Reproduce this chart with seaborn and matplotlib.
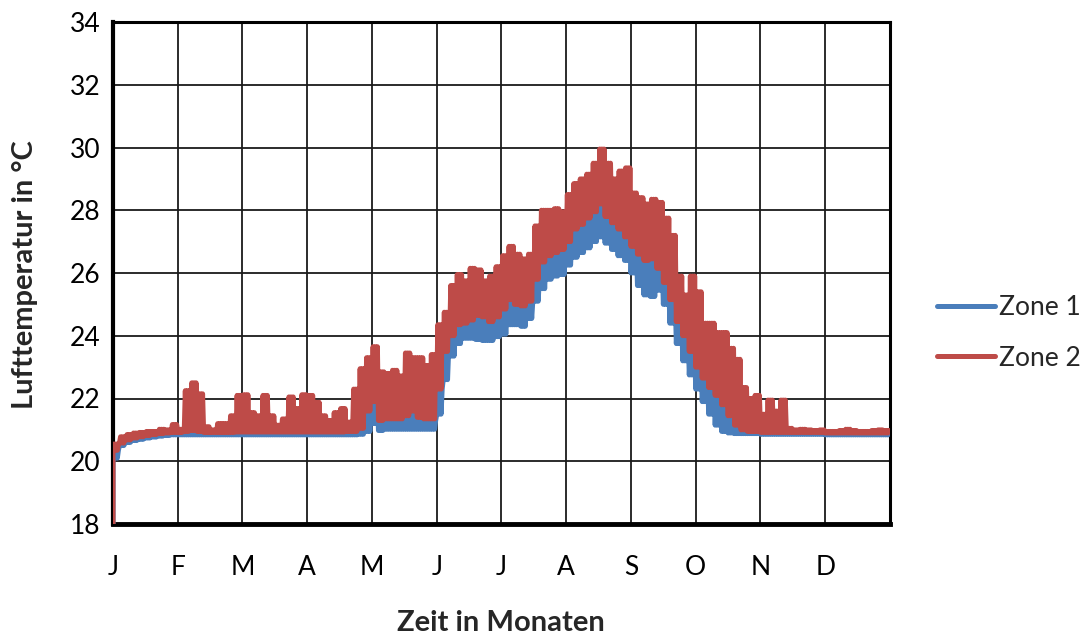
import numpy as np
import pandas as pd
import matplotlib
matplotlib.use("Agg")
import matplotlib.pyplot as plt
import seaborn as sns

# Hourly simulation summarised as min / max per 73-hour block (120 blocks = 1 year);
# inside a block the temperature swings between both values once per day.
BLOCK_HOURS = 73
CYCLES_PER_BLOCK = 3
MONTHS = ["J", "F", "M", "A", "M", "J", "J", "A", "S", "O", "N", "D"]
ZONES = ["Zone 1", "Zone 2"]
START_TEMP = [18.0, 18.0]  # °C at hour 0, Zone 1 / Zone 2

# Zone 1 (blue): lower and upper temperature per block, °C
zone1_lo = [
    20.10, 20.50, 20.60, 20.66, 20.70, 20.74, 20.77, 20.80, 20.82, 20.84,  # Jan
    20.84, 20.84, 20.84, 20.84, 20.84, 20.84, 20.84, 20.84, 20.84, 20.84,  # Feb
    20.84, 20.84, 20.84, 20.84, 20.84, 20.84, 20.84, 20.84, 20.84, 20.84,  # Mar
    20.84, 20.84, 20.84, 20.84, 20.84, 20.84, 20.84, 20.84, 20.86, 20.95,  # Apr
    21.20, 20.98, 21.02, 21.02, 21.02, 21.02, 21.02, 21.02, 21.02, 21.02,  # May
    21.50, 22.60, 23.35, 23.75, 23.92, 23.92, 23.88, 23.85, 23.85, 23.97,  # Jun
    24.05, 24.35, 24.35, 24.30, 24.55, 25.10, 25.50, 25.80, 25.90, 25.95,  # Jul
    26.25, 26.50, 26.65, 26.80, 27.00, 27.15, 26.95, 26.75, 26.55, 26.40,  # Aug
    26.00, 25.60, 25.30, 25.25, 25.45, 25.00, 24.40, 23.75, 23.20, 22.75,  # Sep
    22.30, 21.90, 21.50, 21.15, 20.95, 20.90, 20.88, 20.88, 20.88, 20.88,  # Oct
    20.86, 20.86, 20.86, 20.86, 20.86, 20.86, 20.86, 20.86, 20.86, 20.86,  # Nov
    20.84, 20.84, 20.84, 20.84, 20.84, 20.84, 20.84, 20.84, 20.84, 20.84,  # Dec
]
zone1_hi = [
    20.35, 20.56, 20.65, 20.71, 20.75, 20.79, 20.82, 20.85, 20.87, 20.89,
    20.89, 20.89, 20.89, 20.89, 20.89, 20.89, 20.89, 20.89, 20.89, 20.89,
    20.89, 20.89, 20.89, 20.89, 20.89, 20.89, 20.89, 20.89, 20.89, 20.89,
    20.89, 20.89, 20.89, 20.89, 20.89, 20.89, 20.89, 20.90, 21.00, 21.60,
    21.95, 21.28, 21.30, 21.30, 21.30, 21.40, 21.55, 21.35, 21.30, 21.30,
    22.30, 23.50, 24.00, 24.35, 24.40, 24.50, 24.65, 24.60, 24.45, 24.60,
    24.85, 25.15, 25.00, 24.95, 25.10, 25.80, 26.35, 26.55, 26.65, 26.75,
    27.00, 27.40, 27.55, 27.75, 27.95, 28.20, 27.80, 27.60, 27.40, 27.15,
    26.85, 26.60, 26.40, 26.45, 26.15, 25.70, 25.15, 24.45, 24.00, 23.50,
    23.00, 22.65, 22.35, 22.10, 21.80, 21.45, 21.15, 20.96, 20.92, 20.92,
    20.89, 20.89, 20.89, 20.89, 20.89, 20.89, 20.89, 20.89, 20.89, 20.89,
    20.87, 20.87, 20.87, 20.87, 20.87, 20.87, 20.87, 20.87, 20.87, 20.87,
]

# Zone 2 (red): lower and upper temperature per block, °C
zone2_lo = [
    20.35, 20.58, 20.68, 20.74, 20.78, 20.82, 20.85, 20.88, 20.90, 20.92,
    20.92, 20.95, 20.98, 20.95, 20.92, 20.92, 20.92, 20.92, 20.92, 20.93,
    20.93, 20.93, 20.93, 20.93, 20.93, 20.93, 20.93, 20.93, 20.93, 20.93,
    20.93, 20.93, 20.93, 20.93, 20.93, 20.93, 20.95, 20.95, 21.05, 21.60,
    21.90, 21.30, 21.35, 21.35, 21.35, 21.45, 21.60, 21.40, 21.35, 21.35,
    22.30, 23.50, 24.00, 24.35, 24.40, 24.50, 24.65, 24.60, 24.45, 24.60,
    24.85, 25.15, 25.00, 24.95, 25.10, 25.80, 26.35, 26.55, 26.65, 26.75,
    27.00, 27.40, 27.55, 27.75, 27.95, 28.20, 27.80, 27.60, 27.40, 27.15,
    26.85, 26.60, 26.40, 26.45, 26.15, 25.70, 25.15, 24.45, 24.00, 23.50,
    23.00, 22.65, 22.35, 22.10, 21.80, 21.45, 21.15, 21.00, 20.95, 20.95,
    20.92, 20.92, 20.92, 20.92, 20.92, 20.92, 20.92, 20.92, 20.92, 20.92,
    20.90, 20.90, 20.90, 20.90, 20.90, 20.90, 20.90, 20.90, 20.90, 20.90,
]
zone2_hi = [
    20.55, 20.78, 20.85, 20.90, 20.92, 20.95, 20.95, 21.02, 21.00, 21.17,
    21.02, 22.25, 22.50, 22.15, 21.10, 21.00, 21.20, 21.20, 21.45, 22.10,
    22.12, 21.55, 21.45, 22.10, 21.45, 21.15, 21.35, 22.05, 21.68, 22.12,
    22.10, 21.88, 21.45, 21.30, 21.55, 21.68, 21.25, 22.30, 22.95, 23.30,
    23.65, 22.85, 22.80, 22.90, 22.72, 23.45, 23.30, 23.30, 23.05, 23.40,
    24.35, 24.75, 25.60, 25.95, 25.75, 26.15, 26.10, 25.75, 25.90, 26.20,
    26.55, 26.85, 26.60, 26.45, 26.60, 27.50, 28.00, 28.00, 28.05, 27.95,
    28.50, 28.85, 29.00, 29.15, 29.50, 29.95, 29.50, 29.00, 29.25, 29.35,
    28.55, 28.40, 28.20, 28.35, 28.25, 27.75, 27.20, 25.90, 25.30, 25.90,
    25.40, 24.40, 24.40, 24.10, 24.10, 23.60, 23.25, 22.35, 22.00, 22.10,
    21.50, 21.95, 21.60, 21.95, 21.05, 21.00, 21.02, 21.00, 20.98, 21.00,
    20.95, 20.95, 20.98, 21.02, 20.98, 20.95, 20.95, 20.98, 21.00, 20.98,
]

BLUE = "#4A7EBB"
RED = "#BE4B48"


def daily_swing(start, lo, hi):
    """Series of (hour, °C): start value, then lo/hi alternating once per day."""
    lo = np.asarray(lo)
    hi = np.asarray(hi)
    n = len(lo)
    steps = 2 * CYCLES_PER_BLOCK
    dt = BLOCK_HOURS / steps
    t = (np.arange(n)[:, None] * BLOCK_HOURS + np.arange(steps)[None, :] * dt).ravel()
    pair = np.column_stack([lo, hi])
    v = np.tile(pair, (1, CYCLES_PER_BLOCK)).ravel()
    return np.concatenate([[0.0], t]), np.concatenate([[start], v])


frames = []
for name, start, lo, hi in [
    (ZONES[0], START_TEMP[0], zone1_lo, zone1_hi),
    (ZONES[1], START_TEMP[1], zone2_lo, zone2_hi),
]:
    t, v = daily_swing(start, lo, hi)
    frames.append(pd.DataFrame({"Stunde": t, "Temperatur": v, "Zone": name}))
df = pd.concat(frames, ignore_index=True)

sns.set_style("white")
plt.rcParams["font.family"] = ["Lato", "DejaVu Sans"]

fig = plt.figure(figsize=(10.87, 6.34), dpi=100)
ax = fig.add_axes([113 / 1087, 110 / 634, 777 / 1087, 502 / 634])

sns.lineplot(
    data=df, x="Stunde", y="Temperatur", hue="Zone", hue_order=ZONES,
    palette=[BLUE, RED], estimator=None, sort=False, linewidth=3.6,
    ax=ax, legend=True,
)
for z, line in enumerate(ax.get_lines()):
    line.set_solid_joinstyle("round")
    line.set_solid_capstyle("round")
    line.set_zorder(3 + z)

hours_per_month = 8760 / 12
ax.set_xlim(0, 8760)
ax.set_ylim(18, 34)
ax.set_xticks(np.arange(13) * hours_per_month)
ax.set_xticklabels(MONTHS + [""])
ax.set_yticks(np.arange(18, 35, 2))
ax.grid(True, which="major", axis="both", color="#1a1a1a", linewidth=1.3)
ax.set_axisbelow(True)
ax.tick_params(axis="both", which="both", length=0, labelsize=19, colors="black")
ax.tick_params(axis="x", pad=22)
ax.tick_params(axis="y", pad=9)
ax.set_xlabel("")
ax.set_ylabel("")

for side, lw in [("left", 3.0), ("bottom", 3.5), ("top", 2.2), ("right", 2.2)]:
    ax.spines[side].set_visible(True)
    ax.spines[side].set_color("black")
    ax.spines[side].set_linewidth(lw)

fig.text(25 / 1087, 1 - 275 / 634, "Lufttemperatur in °C", rotation=90,
         ha="center", va="center", fontsize=21, fontweight="bold")
fig.text(501 / 1087, 1 - 631 / 634, "Zeit in Monaten",
         ha="center", va="baseline", fontsize=21, fontweight="bold")

handles, labels = ax.get_legend_handles_labels()
leg = ax.legend(
    handles, labels, loc="center left",
    bbox_to_anchor=(937 / 1087, 1 - 333 / 634), bbox_transform=fig.transFigure,
    frameon=False, fontsize=19, handlelength=2.2, handletextpad=0.15,
    labelspacing=0.95, borderpad=0, borderaxespad=0,
)
for hl in leg.get_lines():
    hl.set_linewidth(3.6)
    hl.set_solid_capstyle("round")

fig.savefig("out.png", dpi=100)
